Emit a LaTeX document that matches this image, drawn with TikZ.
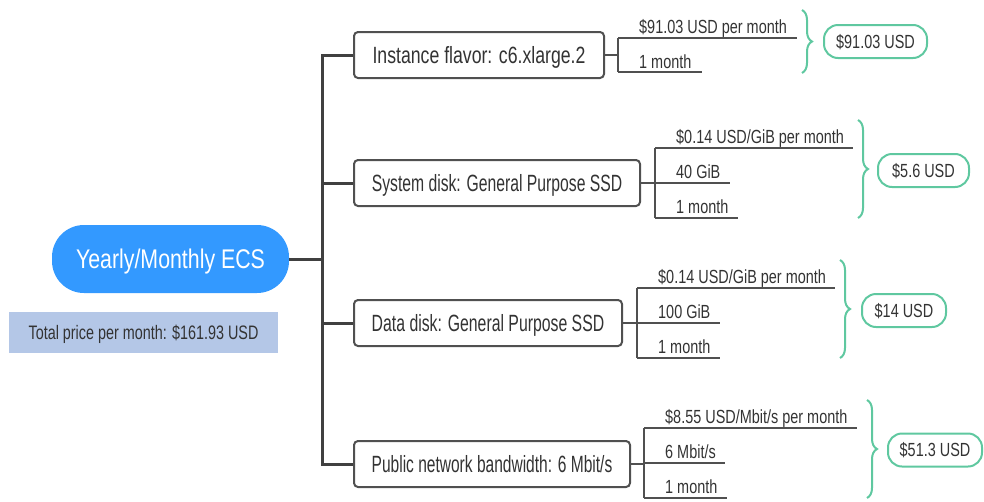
\documentclass[tikz,border=0pt]{standalone}
\usepackage{fontspec}
\setmainfont{Liberation Sans}[FakeStretch=0.76]
\usetikzlibrary{calc,decorations.pathreplacing}
\definecolor{ecsblue}{RGB}{51,153,255}
\definecolor{totalfill}{RGB}{180,199,231}
\definecolor{accent}{RGB}{95,200,160}
\definecolor{linegray}{RGB}{64,64,64}
\definecolor{boxgray}{RGB}{80,80,80}
\definecolor{textgray}{RGB}{51,51,51}
\newcommand{\narrowby}[2]{\scalebox{#1}[1]{#2}}
\begin{document}
\begin{tikzpicture}[x=1pt,y=-1pt,
  trunk/.style={draw=linegray, line width=3pt, line join=miter},
  itembox/.style={draw=boxgray, line width=2pt, rounded corners=4pt, fill=white,
    minimum height=46pt, inner sep=0pt, text=textgray,
    font=\fontsize{23.5}{27}\selectfont, text height=16.8pt, text depth=0pt},
  leaf/.style={anchor=base west, inner sep=0pt, text=textgray,
    font=\fontsize{19}{22}\selectfont},
  leafline/.style={draw=boxgray, line width=1.3pt},
  bracket/.style={draw=accent, line width=2pt, decorate,
    decoration={brace, amplitude=10pt}},
  result/.style={draw=accent, line width=2pt, rounded corners=14pt, fill=white,
    minimum height=33pt, inner sep=0pt, text=textgray,
    font=\fontsize{19}{23}\selectfont, text height=13.6pt, text depth=0pt}
]
\useasboundingbox (0,0) rectangle (984,501);

% root node and monthly total
\node[fill=ecsblue, rounded corners=32pt, minimum width=237pt, minimum height=68pt,
  inner sep=0pt, text=white, font=\fontsize{27}{32}\selectfont,
  text height=19.3pt, text depth=0pt] (ecs) at (170.5,259)
  {\narrowby{1.04}{Yearly/Monthly ECS}};
\node[fill=totalfill, minimum width=269pt, minimum height=41pt, inner sep=0pt,
  text=textgray, font=\fontsize{19.5}{23}\selectfont,
  text height=14pt, text depth=0pt] (total) at (143.5,332.5)
  {\narrowby{0.97}{Total price per month: \$161.93 USD}};

% billing items
\node[itembox, minimum width=250pt] (b1) at (479,55)
  {\narrowby{0.99}{Instance flavor: c6.xlarge.2}};
\node[itembox, minimum width=286pt] (b2) at (497,183)
  {\narrowby{0.88}{System disk: General Purpose SSD}};
\node[itembox, minimum width=268pt] (b3) at (488,323)
  {\narrowby{0.885}{Data disk: General Purpose SSD}};
\node[itembox, minimum width=276pt] (b4) at (492,464)
  {\narrowby{0.87}{Public network bandwidth: 6 Mbit/s}};

% trunk
\coordinate (tr0) at (322,259);
\coordinate (tr1) at (322,55);
\coordinate (tr2) at (322,183);
\coordinate (tr3) at (322,323);
\coordinate (tr4) at (322,464);
\draw[trunk] (ecs.east) -- (tr0);
\draw[trunk] (b1.west) -- (tr1) -- (tr4) -- (b4.west);
\draw[trunk] (tr2) -- (b2.west);
\draw[trunk] (tr3) -- (b3.west);

% group 1: instance flavor
\coordinate (s1) at (618,55);
\coordinate (s1a) at (618,38);
\coordinate (s1b) at (618,72);
\draw[leafline] (b1.east) -- (s1);
\draw[leafline] (s1a) -- (s1b);
\node[leaf] (l1a) at (639,33) {\$91.03 USD per month};
\node[leaf] (l1b) at (639,68) {1 month};
\draw[leafline] (s1a) -- ($(s1a -| l1a.east)+(10,0)$);
\draw[leafline] (s1b) -- ($(s1b -| l1b.east)+(10,0)$);
\coordinate (k1t) at (802,10);
\coordinate (k1b) at (802,73);
\draw[bracket] (k1t) -- (k1b);
\node[result, minimum width=103pt] (r1) at (875.5,41.5) {\$91.03 USD};

% group 2: system disk
\coordinate (s2) at (655,183);
\coordinate (s2a) at (655,148);
\coordinate (s2b) at (655,183);
\coordinate (s2c) at (655,218);
\draw[leafline] (b2.east) -- (s2);
\draw[leafline] (s2a) -- (s2c);
\node[leaf] (l2a) at (676,143) {\$0.14 USD/GiB per month};
\node[leaf] (l2b) at (676,178) {40 GiB};
\node[leaf] (l2c) at (676,213) {1 month};
\draw[leafline] (s2a) -- ($(s2a -| l2a.east)+(9,0)$);
\draw[leafline] (s2b) -- ($(s2b -| l2b.east)+(9,0)$);
\draw[leafline] (s2c) -- ($(s2c -| l2c.east)+(9,0)$);
\coordinate (k2t) at (858,120);
\coordinate (k2b) at (858,218);
\draw[bracket] (k2t) -- (k2b);
\node[result, minimum width=91pt] (r2) at (923.5,170.5) {\$5.6 USD};

% group 3: data disk
\coordinate (s3) at (637,323);
\coordinate (s3a) at (637,288);
\coordinate (s3b) at (637,323);
\coordinate (s3c) at (637,358);
\draw[leafline] (b3.east) -- (s3);
\draw[leafline] (s3a) -- (s3c);
\node[leaf] (l3a) at (658,283) {\$0.14 USD/GiB per month};
\node[leaf] (l3b) at (658,318) {100 GiB};
\node[leaf] (l3c) at (658,353) {1 month};
\draw[leafline] (s3a) -- ($(s3a -| l3a.east)+(9,0)$);
\draw[leafline] (s3b) -- ($(s3b -| l3b.east)+(9,0)$);
\draw[leafline] (s3c) -- ($(s3c -| l3c.east)+(9,0)$);
\coordinate (k3t) at (840,260);
\coordinate (k3b) at (840,358);
\draw[bracket] (k3t) -- (k3b);
\node[result, minimum width=84pt] (r3) at (904,310.5) {\$14 USD};

% group 4: public network bandwidth
\coordinate (s4) at (644,464);
\coordinate (s4a) at (644,428);
\coordinate (s4b) at (644,463);
\coordinate (s4c) at (644,498);
\draw[leafline] (b4.east) -- (s4);
\draw[leafline] (s4a) -- (s4c);
\node[leaf] (l4a) at (665,423) {\$8.55 USD/Mbit/s per month};
\node[leaf] (l4b) at (665,458) {6 Mbit/s};
\node[leaf] (l4c) at (665,493) {1 month};
\draw[leafline] (s4a) -- ($(s4a -| l4a.east)+(9,0)$);
\draw[leafline] (s4b) -- ($(s4b -| l4b.east)+(9,0)$);
\draw[leafline] (s4c) -- ($(s4c -| l4c.east)+(9,0)$);
\coordinate (k4t) at (867,400);
\coordinate (k4b) at (867,498);
\draw[bracket] (k4t) -- (k4b);
\node[result, minimum width=94pt] (r4) at (935,450) {\$51.3 USD};
\end{tikzpicture}
\end{document}
